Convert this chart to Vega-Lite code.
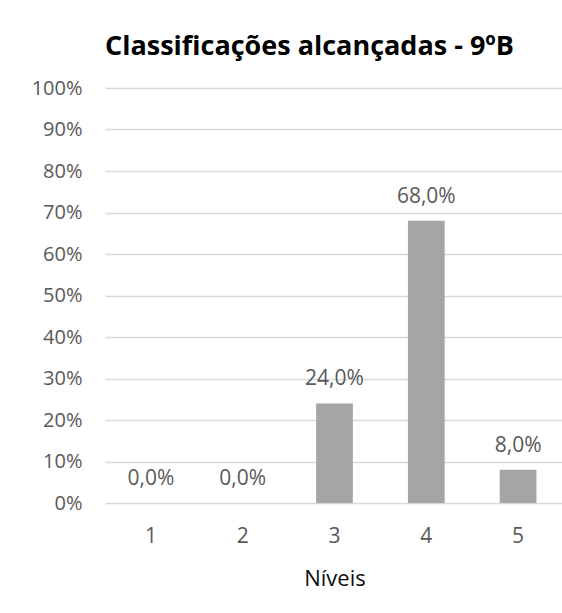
{
  "$schema": "https://vega.github.io/schema/vega-lite/v6.json",
  "autosize": {"type": "none"},
  "width": 459,
  "height": 415,
  "padding": {"left": 105, "top": 88, "right": 0, "bottom": 110},
  "background": "white",
  "config": {
    "locale": {"number": {"decimal": ",", "thousands": ".", "grouping": [3], "currency": ["", " €"]}},
    "font": "Open Sans",
    "view": {"stroke": null}
  },
  "title": {
    "text": "Classificações alcançadas - 9ºB",
    "anchor": "start",
    "frame": "group",
    "font": "Open Sans",
    "fontSize": 27,
    "fontWeight": "bold",
    "color": "#000000",
    "offset": 17
  },
  "data": {
    "values": [
      {"nivel": "1", "pct": 0.0},
      {"nivel": "2", "pct": 0.0},
      {"nivel": "3", "pct": 0.24},
      {"nivel": "4", "pct": 0.68},
      {"nivel": "5", "pct": 0.08}
    ]
  },
  "encoding": {
    "x": {
      "field": "nivel",
      "type": "ordinal",
      "scale": {"paddingInner": 0.6, "paddingOuter": 0.3},
      "axis": {
        "title": "Níveis",
        "titleFont": "Open Sans",
        "titleFontSize": 22,
        "titleFontWeight": "normal",
        "titleColor": "#0d0d0d",
        "titlePadding": 22,
        "labelAngle": 0,
        "labelFontSize": 21,
        "labelColor": "#595959",
        "labelPadding": 22,
        "ticks": false,
        "domain": false
      }
    },
    "y": {
      "field": "pct",
      "type": "quantitative",
      "scale": {"domain": [0, 1]},
      "axis": {
        "title": null,
        "format": ".0%",
        "values": [0, 0.1, 0.2, 0.3, 0.4, 0.5, 0.6, 0.7, 0.8, 0.9, 1],
        "labelFontSize": 20,
        "labelColor": "#595959",
        "labelPadding": 23,
        "ticks": false,
        "domain": false,
        "gridColor": "#d9d9d9",
        "gridWidth": 1.3
      }
    }
  },
  "layer": [
    {"mark": {"type": "bar", "color": "#a5a5a5"}},
    {
      "mark": {"type": "text", "baseline": "bottom", "dy": -14, "fontSize": 21, "color": "#595959"},
      "encoding": {"text": {"field": "pct", "type": "quantitative", "format": ".1%"}}
    }
  ]
}
